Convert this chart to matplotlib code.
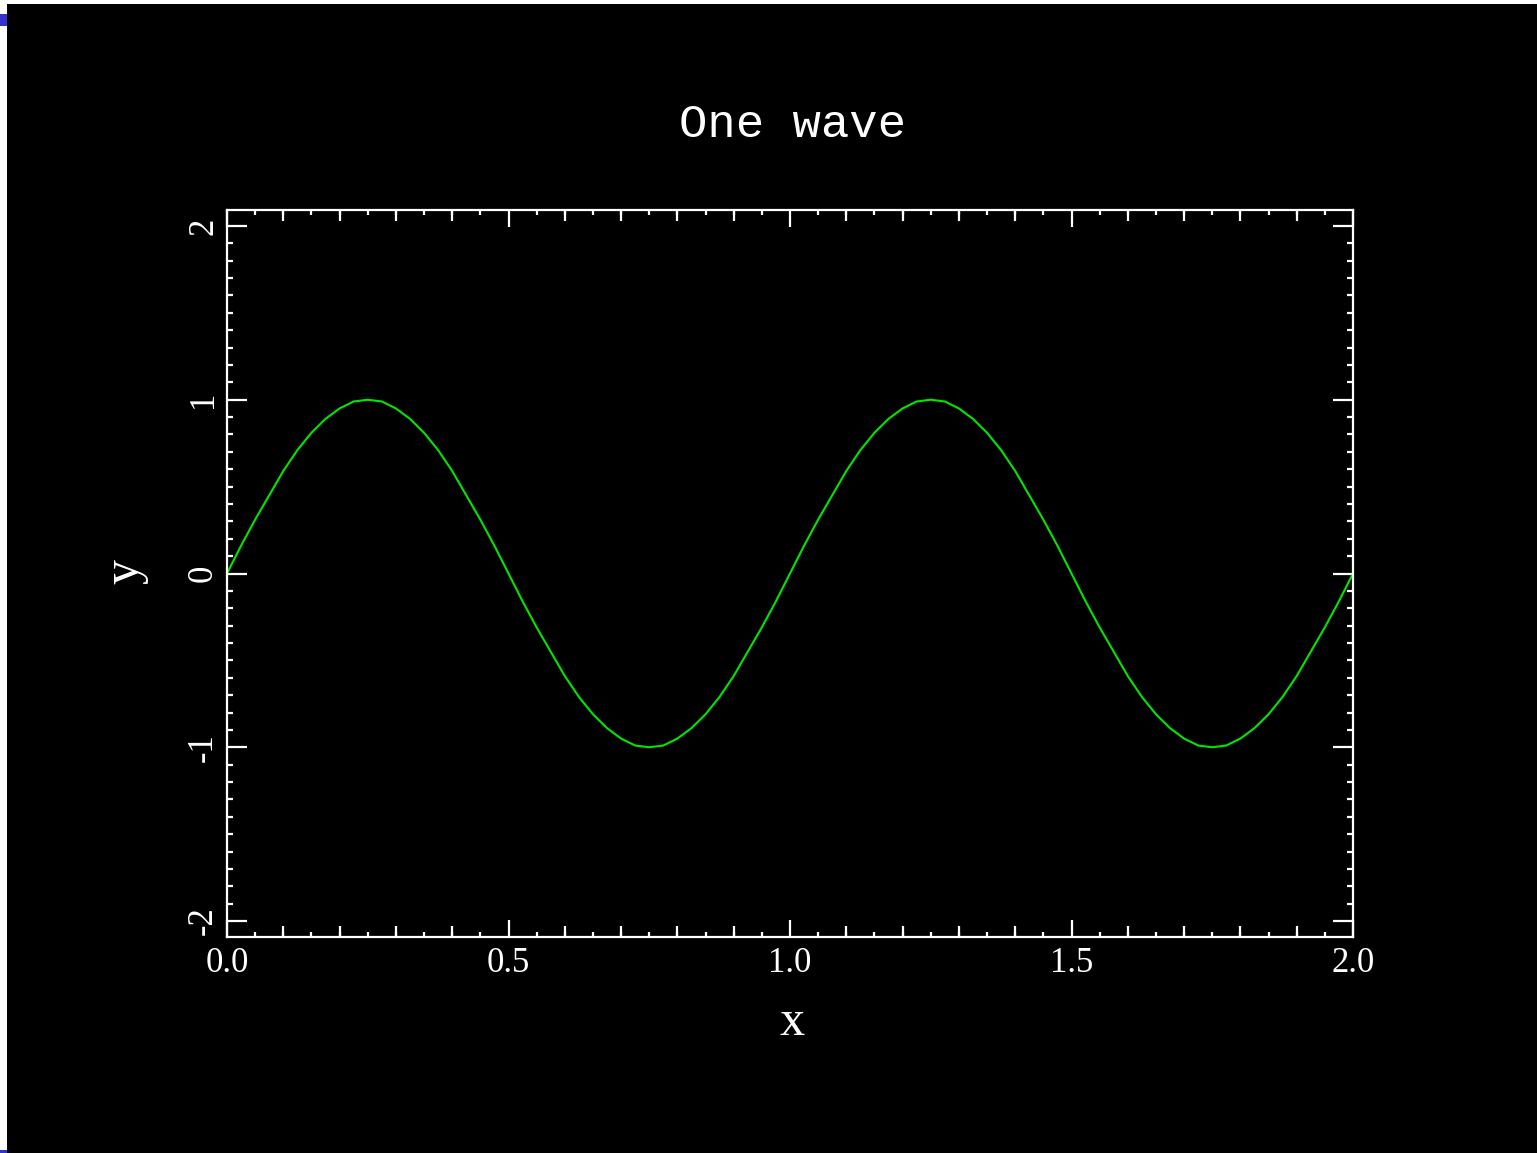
import numpy as np
import matplotlib
matplotlib.use('Agg')
import matplotlib.pyplot as plt
from matplotlib.patches import Rectangle
from matplotlib.ticker import MultipleLocator, FixedLocator, NullFormatter

plt.rcParams['axes.unicode_minus'] = False

# wave samples, step 0.025 in x
wave_x = np.linspace(0.0, 2.0, 81)
wave_y = [0.00, 0.16, 0.31, 0.45, 0.59, 0.71, 0.81, 0.89, 0.95, 0.99,
          1.00, 0.99, 0.95, 0.89, 0.81, 0.71, 0.59, 0.45, 0.31, 0.16,
          0.00, -0.16, -0.31, -0.45, -0.59, -0.71, -0.81, -0.89, -0.95, -0.99,
          -1.00, -0.99, -0.95, -0.89, -0.81, -0.71, -0.59, -0.45, -0.31, -0.16,
          0.00, 0.16, 0.31, 0.45, 0.59, 0.71, 0.81, 0.89, 0.95, 0.99,
          1.00, 0.99, 0.95, 0.89, 0.81, 0.71, 0.59, 0.45, 0.31, 0.16,
          0.00, -0.16, -0.31, -0.45, -0.59, -0.71, -0.81, -0.89, -0.95, -0.99,
          -1.00, -0.99, -0.95, -0.89, -0.81, -0.71, -0.59, -0.45, -0.31, -0.16,
          0.00]

x_ticks = [0.0, 0.5, 1.0, 1.5, 2.0]
x_ticklabels = ['0.0', '0.5', '1.0', '1.5', '2.0']
y_ticks = [-2, -1, 0, 1, 2]
y_ticklabels = ['-2', '-1', '0', '1', '2']

W, H = 1537, 1153
fig = plt.figure(figsize=(W / 100, H / 100), dpi=100)
fig.patch.set_facecolor('white')

# black screen area, plus the little blue marks on the left edge
fig.add_artist(Rectangle((7 / W, 0), 1 - 7 / W, 1 - 4 / H, transform=fig.transFigure,
                         facecolor='black', edgecolor='none', zorder=0))
fig.add_artist(Rectangle((0, 1 - 26 / H), 7 / W, 12 / H, transform=fig.transFigure,
                         facecolor='#3434cc', edgecolor='none', zorder=0))
fig.add_artist(Rectangle((0, 0), 7 / W, 3 / H, transform=fig.transFigure,
                         facecolor='#3434cc', edgecolor='none', zorder=0))

ax = fig.add_axes([227 / W, 1 - 937 / H, (1353 - 227) / W, (937 - 210) / H])
ax.set_facecolor('black')
ax.plot(wave_x, wave_y, color='#00e600', lw=1.5)

ax.set_xlim(0, 2)
ax.set_ylim(-2.092, 2.092)

for s in ax.spines.values():
    s.set_color('white')
    s.set_linewidth(1.6)

tick_font = {'family': 'Liberation Serif', 'size': 25}
ax.set_xticks(x_ticks)
ax.set_xticklabels(x_ticklabels, fontdict=tick_font, color='white')
ax.set_yticks(y_ticks)
ax.set_yticklabels(y_ticklabels, fontdict=tick_font, color='white', rotation=90,
                   va='center')
ax.xaxis.set_minor_locator(MultipleLocator(0.05))
ax.yaxis.set_minor_locator(MultipleLocator(0.1))

ax.tick_params(which='both', direction='in', colors='white', top=True, right=True,
               width=1.6)
ax.tick_params(axis='x', which='major', length=12.5, pad=7)
ax.tick_params(axis='y', which='major', length=14.5, pad=5)
ax.tick_params(axis='x', which='minor', length=3.8)
ax.tick_params(axis='y', which='minor', length=4.3)

# IDL-style medium ticks every 0.1 on the x axis
tenths = [i / 10 for i in range(1, 20) if i % 5 != 0]
for side in ('bottom', 'top'):
    sec = ax.secondary_xaxis(side)
    sec.xaxis.set_major_locator(FixedLocator(tenths))
    sec.xaxis.set_major_formatter(NullFormatter())
    sec.tick_params(direction='in', length=8, width=1.6, colors='white')
    sec.spines[side].set_visible(False)

fig.text(793 / W, 1 - 137 / H, 'One wave', ha='center', va='baseline',
         color='white', family='Liberation Mono', fontsize=34)
fig.text(792 / W, 1 - 1035 / H, 'x', ha='center', va='baseline',
         color='white', family='Liberation Serif', fontsize=36)
fig.text(125 / W, 1 - 572 / H, 'y', ha='center', va='center', rotation=90,
         color='white', family='Liberation Serif', fontsize=36)

fig.savefig('out.png', dpi=100, facecolor=fig.get_facecolor())
